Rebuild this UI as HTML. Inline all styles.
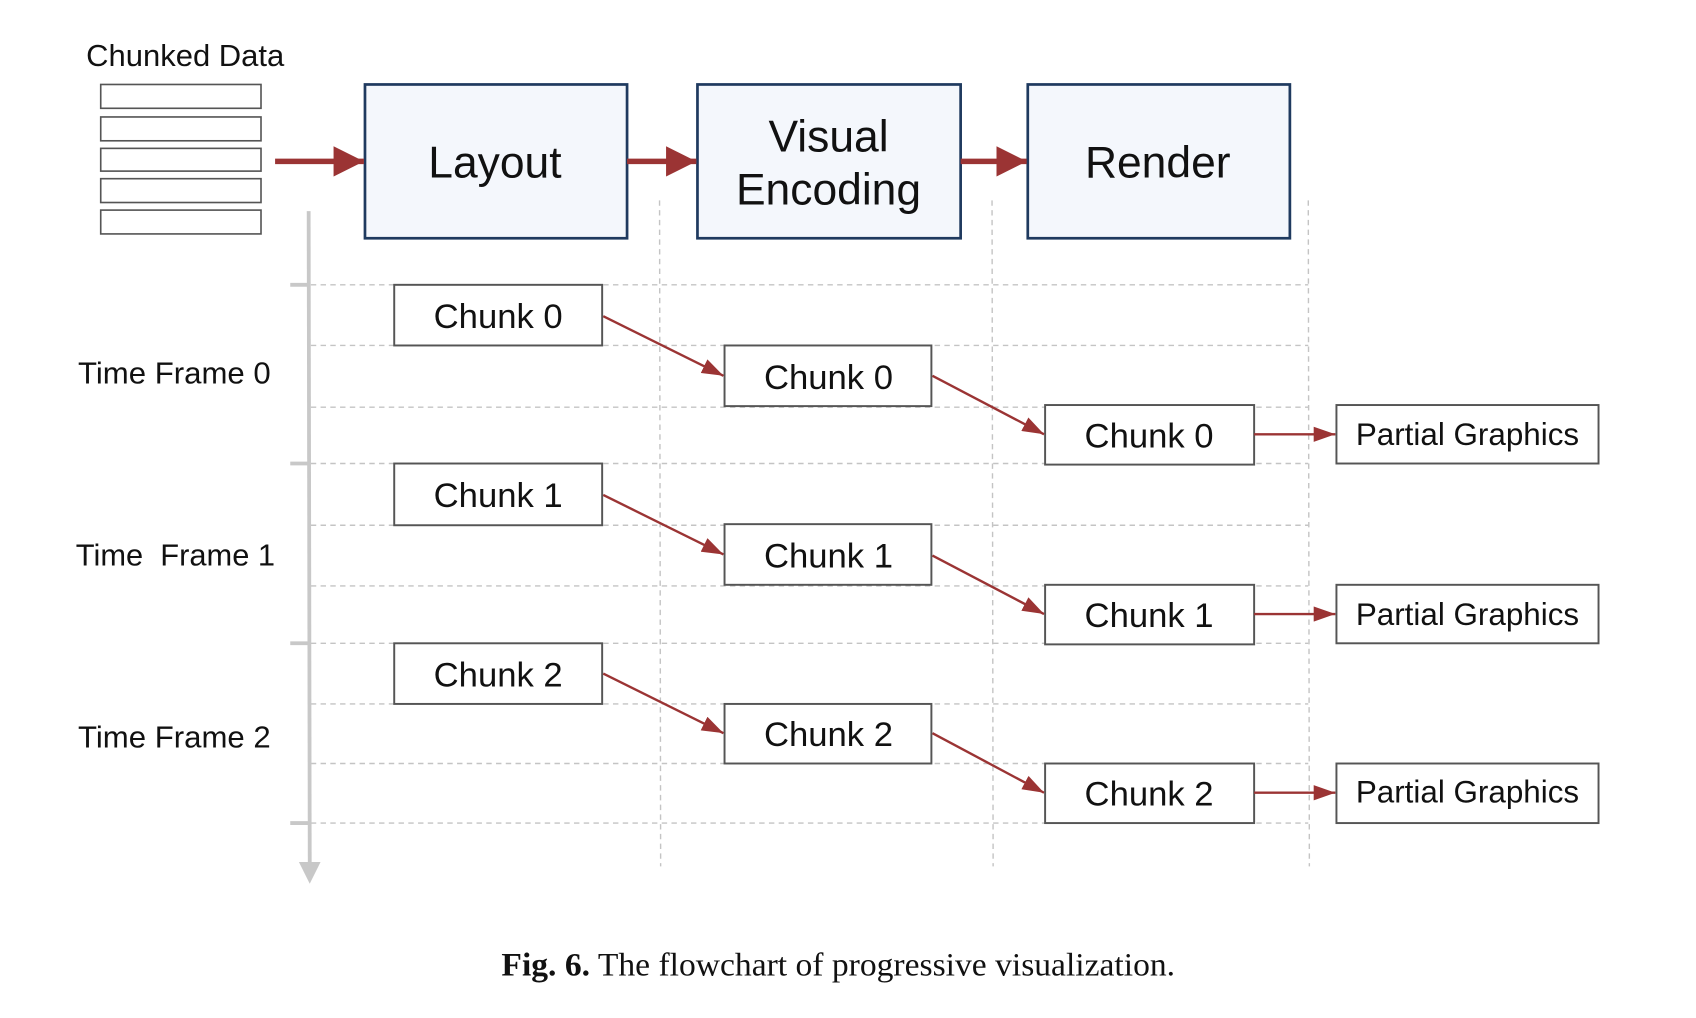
<!DOCTYPE html>
<html><head><meta charset="utf-8"><style>
html,body{margin:0;padding:0;background:#fff;width:1696px;height:1018px;overflow:hidden}
svg{display:block}
text{font-family:"Liberation Sans",sans-serif;fill:#111}
</style></head><body>
<svg width="1696" height="1018" viewBox="0 0 1566 940" preserveAspectRatio="none" xmlns="http://www.w3.org/2000/svg">
<defs>
<marker id="b" viewBox="0 0 10 10" markerWidth="20" markerHeight="14" refX="10" refY="5" orient="auto" markerUnits="userSpaceOnUse" preserveAspectRatio="none"><path d="M0,0 L10,5 L0,10 Z" fill="#9b3434"/></marker>
<marker id="t" viewBox="0 0 10 10" markerWidth="28" markerHeight="28" refX="10" refY="5" orient="auto" markerUnits="userSpaceOnUse" preserveAspectRatio="none"><path d="M0,0 L10,5 L0,10 Z" fill="#9b3434"/></marker>
</defs>
<g stroke="#c4c4c4" stroke-width="1.3" stroke-dasharray="5,4" fill="none">
<line x1="287" y1="263" x2="1208" y2="263"/><line x1="287" y1="319" x2="1208" y2="319"/><line x1="287" y1="376" x2="1208" y2="376"/>
<line x1="287" y1="428" x2="1208" y2="428"/><line x1="287" y1="485" x2="1208" y2="485"/><line x1="287" y1="541" x2="1208" y2="541"/>
<line x1="287" y1="594" x2="1208" y2="594"/><line x1="287" y1="650" x2="1208" y2="650"/><line x1="287" y1="705" x2="1208" y2="705"/>
<line x1="287" y1="760" x2="1208" y2="760"/>
<line x1="609" y1="185" x2="610" y2="800"/><line x1="916" y1="185" x2="917" y2="800"/><line x1="1208" y1="185" x2="1209" y2="800"/>
</g>
<g stroke="#c8c8c8" stroke-width="3.5">
<line x1="285" y1="195" x2="286" y2="800"/>
<line x1="268" y1="263" x2="285" y2="263"/><line x1="268" y1="428" x2="285" y2="428"/><line x1="268" y1="594" x2="285" y2="594"/><line x1="268" y1="760" x2="285" y2="760"/>
</g>
<path d="M276,796 L296,796 L286,816 Z" fill="#c8c8c8"/>
<text x="171" y="61" font-size="28" text-anchor="middle" textLength="183" lengthAdjust="spacingAndGlyphs">Chunked Data</text>
<g fill="#fff" stroke="#555" stroke-width="1.5">
<rect x="93" y="78" width="148" height="22"/><rect x="93" y="108" width="148" height="22"/><rect x="93" y="137" width="148" height="21"/><rect x="93" y="165" width="148" height="22"/><rect x="93" y="194" width="148" height="22"/>
</g>
<g fill="#f4f7fc" stroke="#1f3a5f" stroke-width="2.5">
<rect x="337" y="78" width="242" height="142"/><rect x="644" y="78" width="243" height="142"/><rect x="949" y="78" width="242" height="142"/>
</g>
<g font-size="41" text-anchor="middle">
<text x="457" y="164">Layout</text>
<text x="765" y="140">Visual</text><text x="765" y="189">Encoding</text>
<text x="1069" y="164">Render</text>
</g>
<g stroke="#9b3434" stroke-width="5">
<line x1="254" y1="149" x2="336" y2="149" marker-end="url(#t)"/>
<line x1="579" y1="149" x2="643" y2="149" marker-end="url(#t)"/>
<line x1="887" y1="149" x2="948" y2="149" marker-end="url(#t)"/>
</g>
<g font-size="28">
<text x="72" y="354" textLength="178" lengthAdjust="spacingAndGlyphs">Time Frame 0</text>
<text x="70" y="522" xml:space="preserve" textLength="184" lengthAdjust="spacingAndGlyphs">Time  Frame 1</text>
<text x="72" y="690" textLength="178" lengthAdjust="spacingAndGlyphs">Time Frame 2</text>
</g>
<g fill="#fff" stroke="#555" stroke-width="1.8">
<rect x="364" y="263" width="192" height="56"/><rect x="669" y="319" width="191" height="56"/><rect x="965" y="374" width="193" height="55"/><rect x="1234" y="374" width="242" height="54"/>
<rect x="364" y="428" width="192" height="57"/><rect x="669" y="484" width="191" height="56"/><rect x="965" y="540" width="193" height="55"/><rect x="1234" y="540" width="242" height="54"/>
<rect x="364" y="594" width="192" height="56"/><rect x="669" y="650" width="191" height="55"/><rect x="965" y="705" width="193" height="55"/><rect x="1234" y="705" width="242" height="55"/>
</g>
<g font-size="32" text-anchor="middle">
<text x="460" y="303">Chunk 0</text><text x="765" y="359">Chunk 0</text><text x="1061" y="413">Chunk 0</text>
<text x="460" y="468">Chunk 1</text><text x="765" y="524">Chunk 1</text><text x="1061" y="579">Chunk 1</text>
<text x="460" y="634">Chunk 2</text><text x="765" y="689">Chunk 2</text><text x="1061" y="744">Chunk 2</text>
</g>
<g font-size="29" text-anchor="middle">
<text x="1355" y="411">Partial Graphics</text><text x="1355" y="577">Partial Graphics</text><text x="1355" y="741">Partial Graphics</text>
</g>
<g stroke="#9b3434" stroke-width="2.2" fill="none">
<line x1="557" y1="292" x2="668" y2="347" marker-end="url(#b)"/><line x1="861" y1="347" x2="964" y2="401" marker-end="url(#b)"/><line x1="1158" y1="401" x2="1233" y2="401" marker-end="url(#b)"/>
<line x1="557" y1="457" x2="668" y2="512" marker-end="url(#b)"/><line x1="861" y1="513" x2="964" y2="567" marker-end="url(#b)"/><line x1="1158" y1="567" x2="1233" y2="567" marker-end="url(#b)"/>
<line x1="557" y1="622" x2="668" y2="677" marker-end="url(#b)"/><line x1="861" y1="677" x2="964" y2="732" marker-end="url(#b)"/><line x1="1158" y1="732" x2="1233" y2="732" marker-end="url(#b)"/>
</g>
<text x="774" y="901" font-size="30" text-anchor="middle" textLength="622" lengthAdjust="spacingAndGlyphs" style="font-family:'Liberation Serif',serif"><tspan font-weight="bold">Fig. 6.</tspan>  The flowchart of progressive visualization.</text>
</svg>
</body></html>
